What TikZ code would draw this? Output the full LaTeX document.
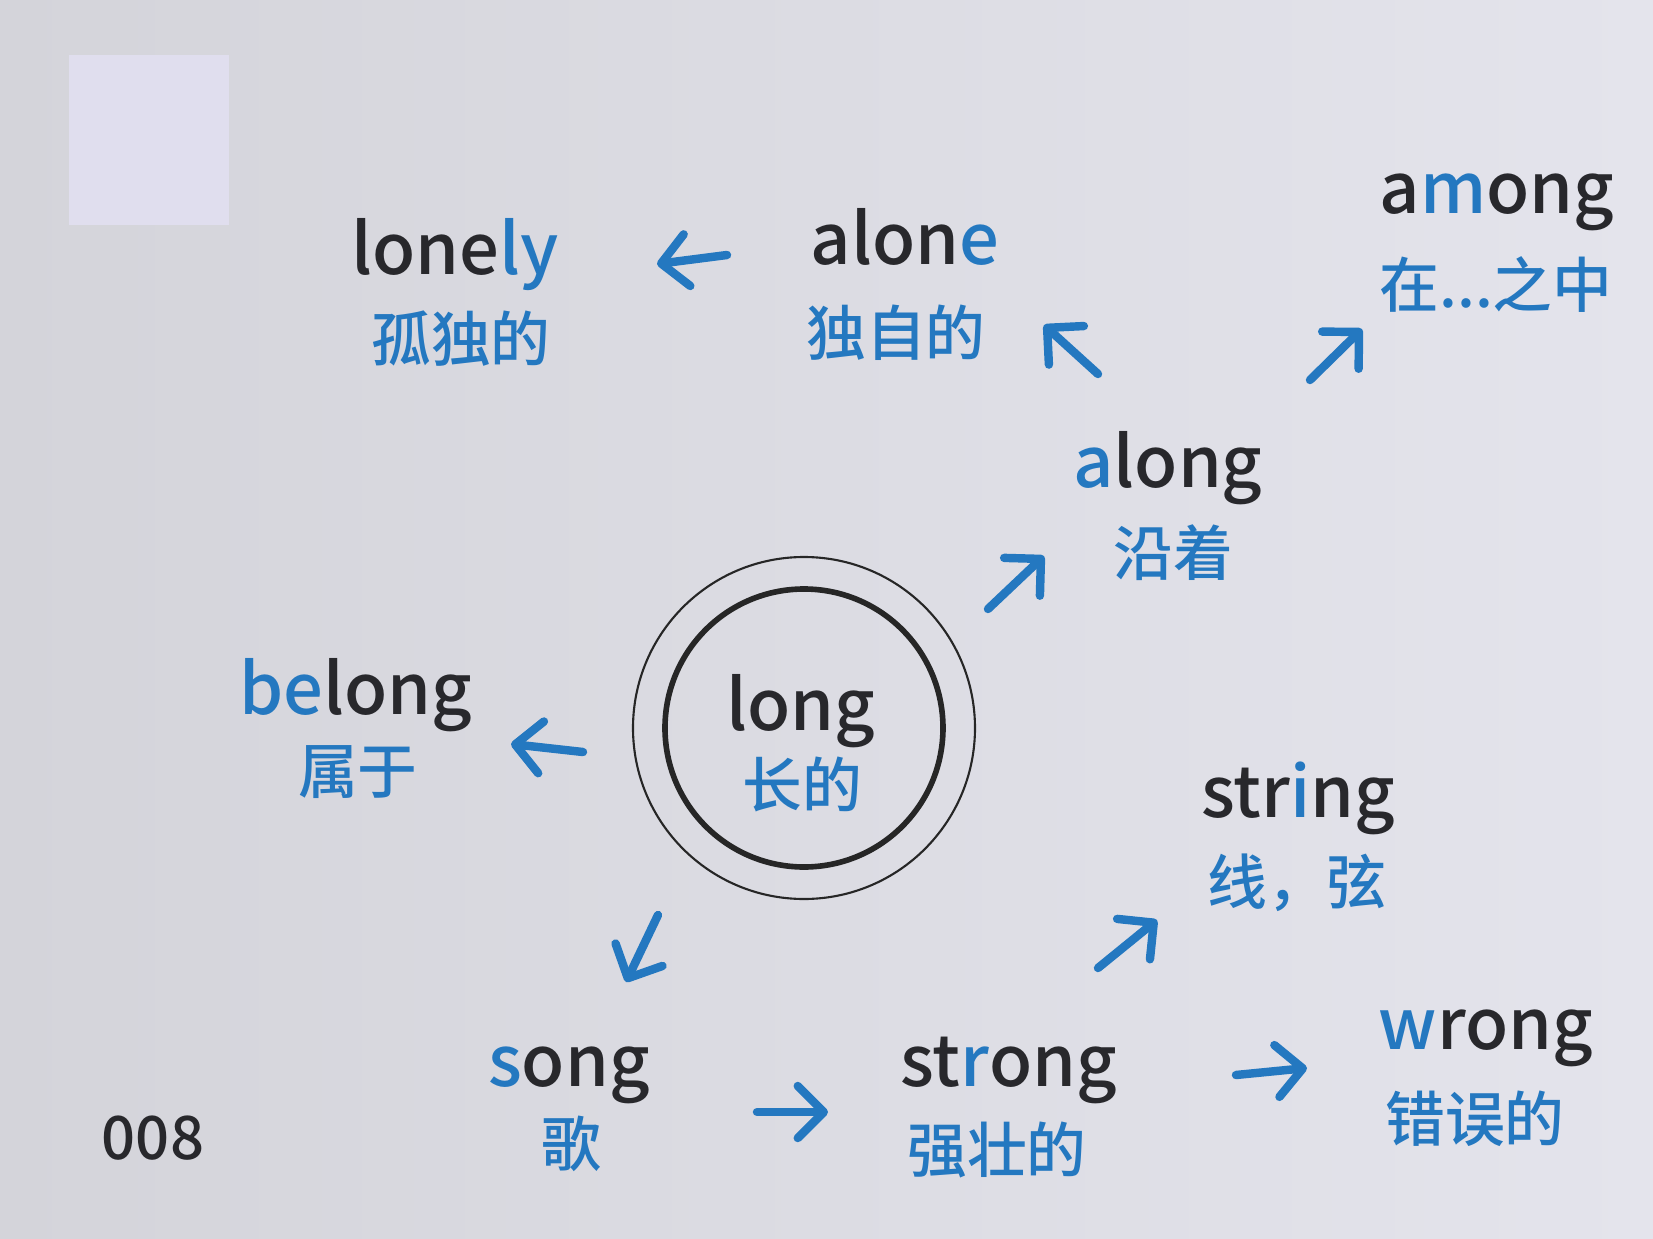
\documentclass[tikz,border=0pt]{standalone}
\usepackage{xcolor}
\usepackage{fontspec}
\setmainfont{Noto Sans CJK SC}[UprightFont=* Medium]
\usetikzlibrary{arrows.meta}

\definecolor{wortblau}{RGB}{36,120,192}
\definecolor{wortgrau}{RGB}{40,40,44}
\definecolor{papier}{RGB}{228,228,236}
\definecolor{papierdunkel}{RGB}{212,212,218}
\definecolor{kaestchen}{RGB}{224,222,238}
\newcommand{\bl}[1]{\textcolor{wortblau}{#1}}

\begin{document}
\begin{tikzpicture}[x=0.01cm,y=-0.01cm,
		wort/.style={anchor=base,inner sep=0pt,text=wortgrau,font=\fontsize{20}{24}\selectfont},
		bedeutung/.style={inner sep=0pt,text=wortblau,font=\fontsize{17}{20}\selectfont},
		pfeil/.style={wortblau,line width=2.4pt,line cap=round,-{Straight Barb[length=2.6mm,width=5.2mm,round]}}]
		% Hintergrund
		\useasboundingbox (0,0) rectangle (1653,1239);
		\shade[left color=papierdunkel,right color=papier] (0,0) rectangle (1653,1239);
		\fill[kaestchen] (69,55) rectangle (229,225);

		% Punkte
		\coordinate (m) at (804,728);
		\coordinate (p1) at (727,255);   \coordinate (q1) at (657,264);
		\coordinate (p2) at (1098,374);  \coordinate (q2) at (1044,325);
		\coordinate (p3) at (1310,380);  \coordinate (q3) at (1362,329);
		\coordinate (p4) at (988,609);   \coordinate (q4) at (1044,556);
		\coordinate (p5) at (583,752);   \coordinate (q5) at (511,744);
		\coordinate (p6) at (658,915);   \coordinate (q6) at (626,982);
		\coordinate (p7) at (757,1112);  \coordinate (q7) at (828,1112);
		\coordinate (p8) at (1098,968);  \coordinate (q8) at (1157,920);
		\coordinate (p9) at (1236,1075); \coordinate (q9) at (1307,1068);

		% Kreise
		\draw[black!85,line width=0.6pt] (m) circle (171);
		\draw[black!85,line width=1.6pt] (m) circle (139);

		% Woerter
		\node[wort] (long) at (801,730) {long};
		\node[bedeutung] (long-cn) at (802,784) {长的};
		\node[wort] (lonely) at (455,274) {lone\bl{ly}};
		\node[bedeutung] (lonely-cn) at (461,339) {孤独的};
		\node[wort] (alone) at (905,264) {alon\bl{e}};
		\node[bedeutung] (alone-cn) at (896,333) {独自的};
		\node[wort] (among) at (1497,213) {a\bl{m}ong};
		\node[bedeutung] (among-cn) at (1496,285) {在...之中};
		\node[wort] (along) at (1168,487) {\bl{a}long};
		\node[bedeutung] (along-cn) at (1173,553) {沿着};
		\node[wort] (belong) at (356,714) {\bl{be}long};
		\node[bedeutung] (belong-cn) at (358,772) {属于};
		\node[wort] (string) at (1298,817) {str\bl{i}ng};
		\node[bedeutung] (string-cn) at (1297,883) {线，弦};
		\node[wort] (song) at (569,1086) {\bl{s}ong};
		\node[bedeutung] (song-cn) at (571,1144) {歌};
		\node[wort] (strong) at (1009,1086) {st\bl{r}ong};
		\node[bedeutung] (strong-cn) at (997,1150) {强壮的};
		\node[wort] (wrong) at (1486,1049) {\bl{w}rong};
		\node[bedeutung] (wrong-cn) at (1475,1119) {错误的};
		\node[inner sep=0pt,text=wortgrau,font=\fontsize{17}{20}\selectfont] (seite) at (153,1138) {008};

		% Pfeile
		\draw[pfeil] (p1) -- (q1);
		\draw[pfeil] (p2) -- (q2);
		\draw[pfeil] (p3) -- (q3);
		\draw[pfeil] (p4) -- (q4);
		\draw[pfeil] (p5) -- (q5);
		\draw[pfeil] (p6) -- (q6);
		\draw[pfeil] (p7) -- (q7);
		\draw[pfeil] (p8) -- (q8);
		\draw[pfeil] (p9) -- (q9);
	\end{tikzpicture}
\end{document}
